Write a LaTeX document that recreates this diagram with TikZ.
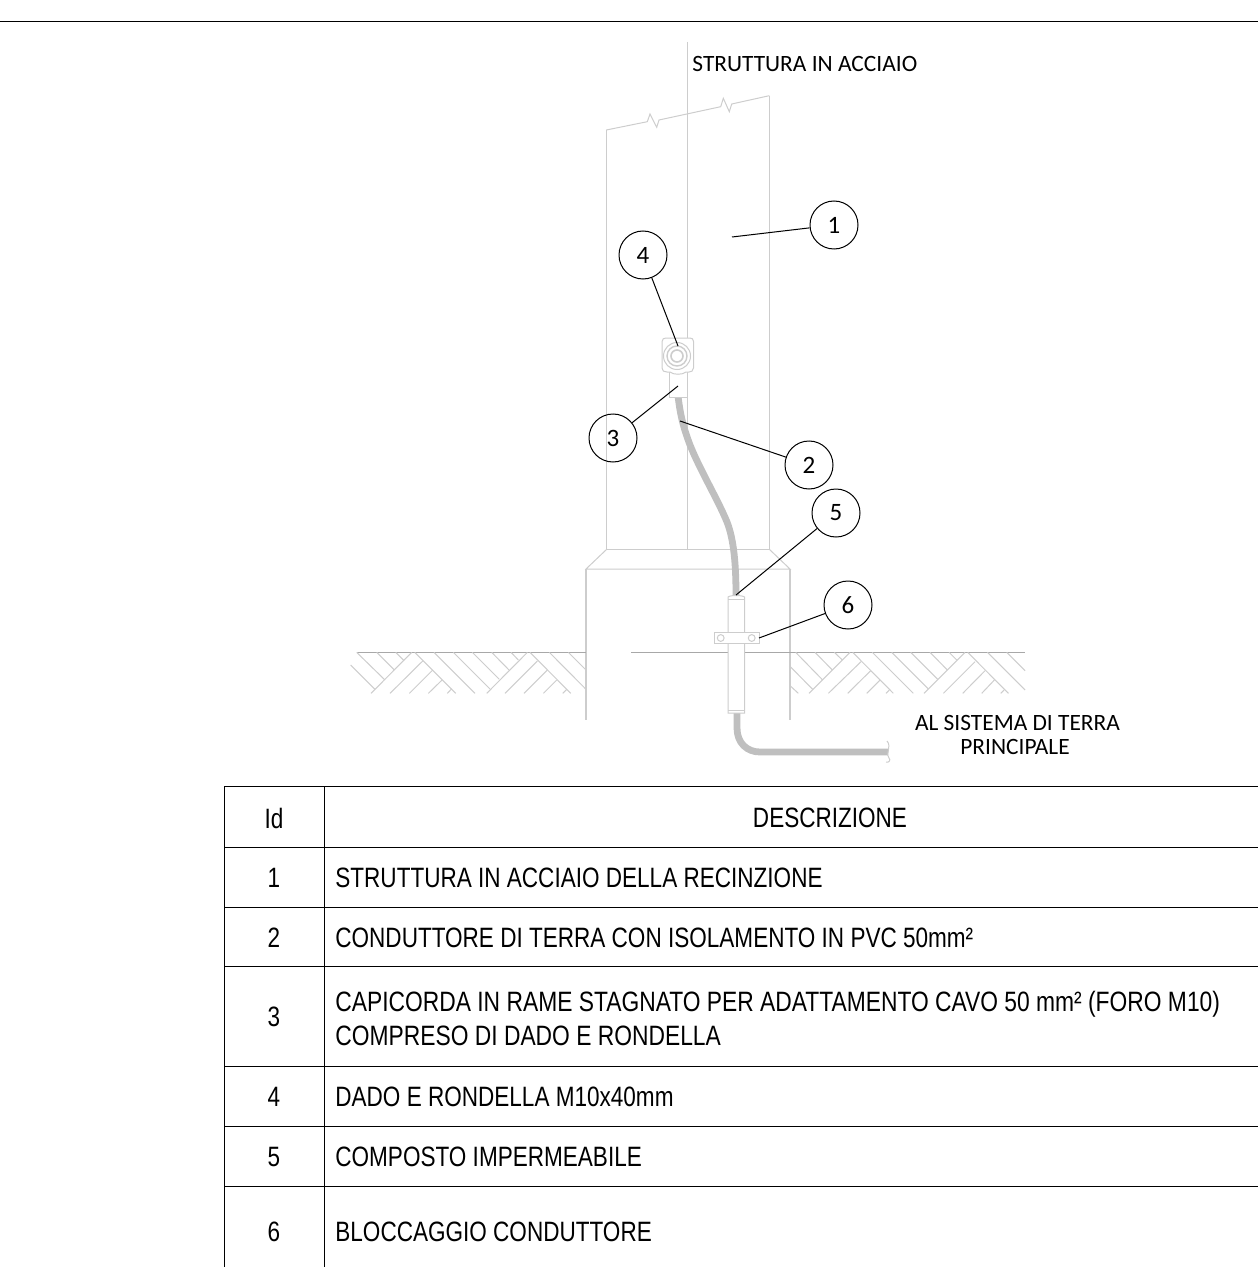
\documentclass[tikz,border=0pt]{standalone}
\usepackage{fontspec}
\setmainfont{Liberation Sans}
\newfontfamily\narrowf[FakeStretch=0.805]{Liberation Sans}
\newfontfamily\narrowg[FakeStretch=0.815]{Liberation Sans}
\newfontfamily\callf{Carlito}
\definecolor{struct}{HTML}{CDCDCD}
\definecolor{groundc}{HTML}{A8A8A8}
\definecolor{wirec}{HTML}{BFBFBF}
\tikzset{
  structline/.style={draw=struct,line width=0.75pt},
  hatchline/.style={draw=struct,line width=0.5pt},
  wireline/.style={draw=wirec,line width=3.4pt},
  balloon/.style={circle,draw=black,line width=0.5pt,minimum size=24pt,inner sep=0pt,font=\callf\fontsize{12.5}{14}\selectfont},
  leader/.style={draw=black,line width=0.5pt},
  tableline/.style={draw=black,line width=0.45pt},
  cellid/.style={font=\narrowf\fontsize{14}{17}\selectfont,anchor=center},
  celltext/.style={font=\narrowf\fontsize{14}{17}\selectfont,anchor=west,align=left,inner sep=0pt},
  note/.style={font=\callf\fontsize{11.7}{12.4}\selectfont,align=center,inner sep=0pt}
}
\begin{document}
\begin{tikzpicture}[x=0.5pt,y=-0.5pt]
\useasboundingbox (0,0) rectangle (1258,1267);
\draw[tableline] (0,21) -- (1258,21);
% structure
\draw[structline] (606.3,549) -- (606.3,130);
\draw[hatchline] (606.3,130) -- (647.3,121.7) -- (650,114) -- (656.7,127.3) -- (659,120) -- (720.7,106.7) -- (723.3,98.3) -- (729.3,111.7) -- (731.7,104) -- (769.3,95.7);
\draw[structline] (769.3,95.7) -- (769.3,549);
\draw[structline] (687.7,42) -- (687.7,549);
\draw[hatchline] (607,549) -- (769,549);
\draw[hatchline] (607,549) -- (586,569) -- (790,569) -- (769,549);
\draw[structline] (586,569) -- (586,720);
\draw[structline] (790,569) -- (790,720);
% ground
\draw[draw=groundc,line width=0.5pt] (357,652.3) -- (586,652.3);
\draw[draw=groundc,line width=0.5pt] (631,652.3) -- (1025,652.3);
\begin{scope}[shift={(340,530)},x=0.1667pt,y=-0.1667pt]
\foreach \a/\b/\c/\d in {50/367/135/450,110/367/163/420,167/367/192/392,32/405/105/478,215/367/93/490,248/393/150/490,278/420/208/490,306/450/265/490,335/476/322/490,224/367/347/490,282/367/405/490,340/367/450/477,397/367/478/448,455/367/507/420,513/367/535/390,562/367/440/490,592/393/495/490,622/420/552/490,650/450/610/490,680/478/668/490,570/367/692/490,628/367/738/478,685/367/738/420}
  \draw[hatchline] (\a,\b) -- (\c,\d);
\end{scope}
\begin{scope}[shift={(780,640)},x=0.1667pt,y=-0.1667pt]
\foreach \a/\b/\c/\d in {47/37/128/120,105/37/157/90,163/37/187/60,28/77/98/148,28/135/55/160,210/37/87/160,243/65/145/160,272/92/203/160,300/120/260/160,328/150/318/160,218/37/340/160,277/37/400/160,335/37/445/147,392/37/473/118,450/37/502/90,507/37/530/60,555/37/432/160,585/65/490/160,615/92/548/160,643/120/605/160,672/150/662/160,563/37/685/160,622/37/735/150,680/37/735/92}
  \draw[hatchline] (\a,\b) -- (\c,\d);
\end{scope}
% wire
\draw[wireline] (678,396) .. controls (680,412) and (682,424) .. (690,445) .. controls (700,470) and (718,500) .. (727,522) .. controls (734,540) and (736,565) .. (736,596);
\draw[wireline] (737,712) -- (737,728) .. controls (737,743) and (747,752) .. (760,752) -- (888,752);
\draw[hatchline] (887,741) .. controls (892,746) and (885,756) .. (889,758) .. controls (891,760) and (889,763) .. (886,762);
% lug and nut
\draw[hatchline,fill=white] (669,372) -- (669,397) -- (687,397) -- (687,372);
\draw[hatchline,fill=white] (666,338) -- (690,338) .. controls (692,338) and (693.5,339) .. (693.5,341.5) -- (693.5,368) .. controls (693.5,371) and (691,372) .. (689,372) -- (686,372) .. controls (683,375) and (673,375) .. (670,372) -- (667,372) .. controls (664,372) and (662,371) .. (662,368) -- (662,341.5) .. controls (662,339) and (664,338) .. (666,338) -- cycle;
\node[draw=struct,line width=0.5pt,circle,minimum size=13.5pt,inner sep=0pt] (nutouter) at (677,356) {};
\node[draw=struct,line width=0.7pt,circle,minimum size=10pt,inner sep=0pt] (nutmid) at (677,356) {};
\node[draw=struct,line width=0.8pt,circle,minimum size=6pt,inner sep=0pt] (nutinner) at (677,356) {};
% sleeve and clamp
\draw[hatchline,fill=white] (728,713) -- (728,597) .. controls (730,595) and (742,595) .. (744.5,597) -- (744.5,713) -- cycle;
\draw[hatchline] (728,599) -- (744.5,599);
\draw[hatchline] (728,710) -- (744.5,710);
\draw[hatchline,fill=white] (714,632.7) rectangle (759,643.3);
\node[draw=struct,line width=0.5pt,circle,minimum size=3.4pt,inner sep=0pt] (holea) at (720.7,638) {};
\node[draw=struct,line width=0.5pt,circle,minimum size=3.4pt,inner sep=0pt] (holeb) at (751.7,638) {};
% balloons
\coordinate (t1) at (732,237);
\coordinate (t2) at (680,421);
\coordinate (t3) at (678,386);
\coordinate (t4) at (678,346);
\coordinate (t5) at (736,595);
\coordinate (t6) at (759,638);
\node[balloon] (b1) at (834,225) {1};
\node[balloon] (b2) at (809,465) {2};
\node[balloon] (b3) at (613,438) {3};
\node[balloon] (b4) at (643,255) {4};
\node[balloon] (b5) at (836,513) {5};
\node[balloon] (b6) at (848,605) {6};
\foreach \i in {1,...,6} \draw[leader] (b\i) -- (t\i);
% notes
\node[note,anchor=west] (n1) at (692,64) {STRUTTURA IN ACCIAIO};
\node[note] (n2) at (1017.5,735) {AL SISTEMA DI TERRA\\PRINCIPALE\hspace*{2.5pt}};
% table
\foreach \y in {786,847,907,966,1066,1126,1186} \draw[tableline] (224,\y) -- (1258,\y);
\draw[tableline] (224,786) -- (224,1267);
\draw[tableline] (324,786) -- (324,1267);
\node[cellid] (h1) at (274,818) {Id};
\node[cellid] (h2) at (830,818) {DESCRIZIONE};
\node[cellid] (i1) at (274,878) {1};
\node[cellid] (i2) at (274,938) {2};
\node[cellid] (i3) at (274,1017) {3};
\node[cellid] (i4) at (274,1097) {4};
\node[cellid] (i5) at (274,1157) {5};
\node[cellid] (i6) at (274,1232) {6};
\node[celltext] (d1) at (335,878) {STRUTTURA IN ACCIAIO DELLA RECINZIONE};
\node[celltext] (d2) at (335,938) {CONDUTTORE DI TERRA CON ISOLAMENTO IN PVC 50mm²};
\node[celltext,font=\narrowg\fontsize{14}{17}\selectfont] (d3) at (335,1018) {CAPICORDA IN RAME STAGNATO PER ADATTAMENTO CAVO 50 mm² (FORO M10)\\COMPRESO DI DADO E RONDELLA};
\node[celltext] (d4) at (335,1097) {DADO E RONDELLA M10x40mm};
\node[celltext] (d5) at (335,1157) {COMPOSTO IMPERMEABILE};
\node[celltext] (d6) at (335,1232) {BLOCCAGGIO CONDUTTORE};
\end{tikzpicture}
\end{document}
